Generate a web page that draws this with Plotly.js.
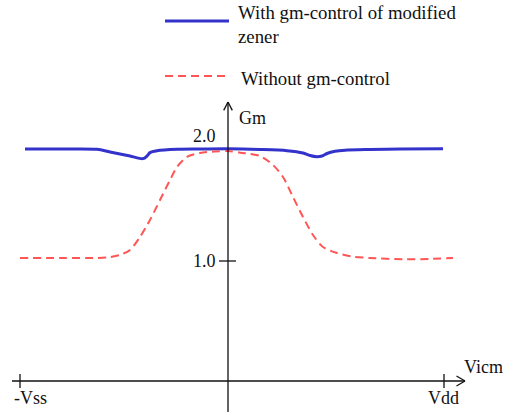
<!DOCTYPE html>
<html>
<head>
<meta charset="utf-8">
<script src="https://cdn.plot.ly/plotly-3.0.1.min.js"></script>
<style>html,body{margin:0;padding:0;background:#fff;}#chart{width:505px;height:412px;}</style>
</head>
<body>
<div id="chart"></div>
<script>
// Vicm (arbitrary units, 0 at the Gm axis) and Gm values
const xWith = [-203,-168,-131,-118,-98,-85,-81,-78,-71,-51,-28,0,32,59,75,82,89,94,99,107,117,142,172,215];
const gmWith = [1.933,1.933,1.931,1.908,1.875,1.853,1.875,1.903,1.919,1.931,1.933,1.935,1.929,1.919,1.900,1.879,1.869,1.875,1.896,1.914,1.923,1.929,1.933,1.936];
const xWithout = [-208,-168,-131,-118,-108,-98,-88,-78,-68,-58,-51,-41,-28,-13,0,12,22,32,45,55,65,75,85,95,109,125,142,175,202,225];
const gmWithout = [1.025,1.025,1.025,1.033,1.050,1.092,1.200,1.342,1.508,1.675,1.783,1.867,1.900,1.913,1.917,1.903,1.892,1.875,1.800,1.700,1.533,1.367,1.217,1.117,1.067,1.036,1.025,1.014,1.017,1.025];
const seriesNames = ['With gm-control of modified<br>zener', 'Without gm-control'];
const xTickVals = [-208, 216];
const xTickLabels = ['-Vss', 'Vdd'];
const yTickVals = [1.0, 2.0];
const yTickLabels = ['1.0', '2.0'];
const yTicksDrawn = [1.0];
const xAxisTitle = 'Vicm';
const yAxisTitle = 'Gm';

const W = 505, H = 412;
const px = v => v / W;           // pixel -> paper x
const py = v => 1 - v / H;       // pixel -> paper y
const FONT = "'Liberation Serif', 'Times New Roman', serif";
const BLUE = '#3333cc', RED = '#ff5555', INK = '#111111';

const xRange = [-228, 277];
const yRange = [-31/120, 381/120];
const xTop = 2.325, xEnd = 237, xStart = -216, yBottom = yRange[0];

const traces = [
  {x: xWith, y: gmWith, mode: 'lines', name: seriesNames[0], line: {color: BLUE, width: 3, shape: 'spline', smoothing: 0.8}, hoverinfo: 'skip'},
  {x: xWithout, y: gmWithout, mode: 'lines', name: seriesNames[1], line: {color: RED, width: 2, dash: '8px,5px', shape: 'spline', smoothing: 0.8}, hoverinfo: 'skip'}
];

const line = (x0,y0,x1,y1,extra) => Object.assign({type:'line', xref:'x', yref:'y', x0, y0, x1, y1, line:{color:INK, width:1.3}, layer:'above'}, extra||{});
const shapes = [
  line(xStart, 0, xEnd, 0),
  line(0, yBottom, 0, xTop),
  line(0, xTop, -4.3, xTop - 8.4/120),
  line(0, xTop, 4.3, xTop - 8.4/120),
  line(xEnd, 0, xEnd - 8.5, 5/120),
  line(xEnd, 0, xEnd - 8.5, -5/120),
  {type:'line', xref:'paper', yref:'paper', x0:px(165), x1:px(229), y0:py(21), y1:py(21), line:{color:BLUE, width:3}},
  {type:'line', xref:'paper', yref:'paper', x0:px(165), x1:px(229), y0:py(76), y1:py(76), line:{color:RED, width:2, dash:'8px,5px'}}
];
xTickVals.forEach(v => shapes.push(line(v, -7/120, v, 7/120)));
yTicksDrawn.forEach(v => shapes.push(line(-9, v, 8, v)));

const ann = (o, size) => Object.assign({showarrow:false, font:{family:FONT, size:size||18, color:INK}}, o);
const annotations = [
  ann({xref:'paper', yref:'paper', x:px(236), y:py(25), xanchor:'left', yanchor:'middle', align:'left', text:seriesNames[0]}, 18.8),
  ann({xref:'paper', yref:'paper', x:px(239), y:py(78), xanchor:'left', yanchor:'middle', align:'left', text:seriesNames[1]}, 18.8),
  ann({xref:'paper', yref:'paper', x:px(237), y:py(118), xanchor:'left', yanchor:'middle', text:yAxisTitle}),
  ann({xref:'paper', yref:'paper', x:px(462), y:py(367), xanchor:'left', yanchor:'middle', text:xAxisTitle})
];
xTickVals.forEach((v,i) => annotations.push(ann({xref:'x', yref:'y', x:v, y:0, xanchor: i===0 ? 'left' : 'right', xshift: i===0 ? -8 : 17, yshift:-17, yanchor:'middle', text:xTickLabels[i]})));
yTickVals.forEach((v,i) => annotations.push(ann({xref:'x', yref:'y', x:0, y:v, xanchor:'right', xshift:-10, yshift: v===2 ? 5 : 0, yanchor:'middle', text:yTickLabels[i]})));

const ax = {visible:false, showgrid:false, zeroline:false, fixedrange:true};
const layout = {
  width: W, height: H,
  margin: {l:0, r:0, t:0, b:0},
  paper_bgcolor: '#ffffff', plot_bgcolor: '#ffffff',
  showlegend: false,
  font: {family: FONT},
  xaxis: Object.assign({range: xRange}, ax),
  yaxis: Object.assign({range: yRange}, ax),
  shapes, annotations
};
Plotly.newPlot('chart', traces, layout, {staticPlot:true, displayModeBar:false});
</script>
</body>
</html>
